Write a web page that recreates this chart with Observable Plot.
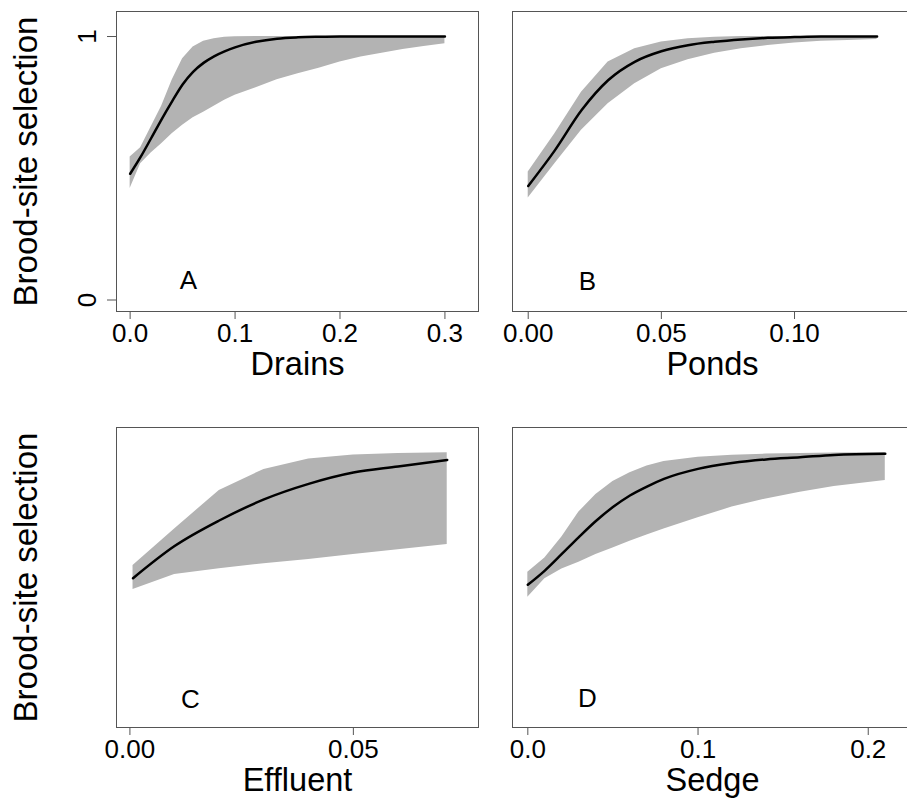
<!DOCTYPE html>
<html>
<head>
<meta charset="utf-8">
<script src="https://cdn.jsdelivr.net/npm/d3@7"></script>
<script src="https://cdn.jsdelivr.net/npm/@observablehq/plot@0.6"></script>
<style>
  html, body { margin: 0; padding: 0; background: #fff; overflow: hidden; }
  #wrap { position: relative; width: 907px; height: 798px; overflow: hidden; background: #fff; }
  .panel { position: absolute; }
</style>
</head>
<body>
<div id="wrap"></div>
<script>
// ---------- text ----------
const yTitle = "Brood-site selection";
const panelLetters = ["A", "B", "C", "D"];
const xTitles = ["Drains", "Ponds", "Effluent", "Sedge"];

// ---------- tick values and labels ----------
const yTicks = [0, 1];
const yTickLabels = ["0", "1"];
const drainsTicks = [0, 0.1, 0.2, 0.3];
const drainsTickLabels = ["0.0", "0.1", "0.2", "0.3"];
const pondsTicks = [0, 0.05, 0.1];
const pondsTickLabels = ["0.00", "0.05", "0.10"];
const effluentTicks = [0, 0.05];
const effluentTickLabels = ["0.00", "0.05"];
const sedgeTicks = [0, 0.1, 0.2];
const sedgeTickLabels = ["0.0", "0.1", "0.2"];

// ---------- A: Drains ----------
const drainsX   = [0, 0.01, 0.02, 0.03, 0.04, 0.05, 0.06, 0.07, 0.08, 0.09, 0.1, 0.12, 0.14, 0.16, 0.18, 0.2, 0.22, 0.24, 0.26, 0.28, 0.3];
const drainsFit = [0.479, 0.543, 0.614, 0.686, 0.754, 0.818, 0.866, 0.900, 0.925, 0.944, 0.959, 0.980, 0.992, 0.997, 0.999, 1, 1, 1, 1, 1, 1];
const drainsHi  = [0.543, 0.578, 0.657, 0.735, 0.834, 0.916, 0.960, 0.982, 0.992, 0.997, 0.999, 1, 1, 1, 1, 1, 1, 1, 1, 1, 1];
const drainsLo  = [0.423, 0.517, 0.558, 0.593, 0.631, 0.663, 0.692, 0.713, 0.735, 0.758, 0.777, 0.806, 0.836, 0.859, 0.880, 0.903, 0.922, 0.937, 0.951, 0.962, 0.973];

// ---------- B: Ponds ----------
const pondsX   = [0, 0.01, 0.02, 0.03, 0.04, 0.05, 0.06, 0.07, 0.08, 0.09, 0.1, 0.11, 0.12, 0.131];
const pondsFit = [0.433, 0.568, 0.720, 0.834, 0.904, 0.944, 0.967, 0.980, 0.989, 0.995, 0.998, 1, 1, 1];
const pondsHi  = [0.486, 0.631, 0.789, 0.903, 0.954, 0.979, 0.992, 0.997, 1, 1, 1, 1, 1, 1];
const pondsLo  = [0.387, 0.517, 0.644, 0.745, 0.821, 0.878, 0.912, 0.937, 0.954, 0.966, 0.975, 0.982, 0.985, 0.989];

// ---------- C: Effluent ----------
const effluentX   = [0.0007, 0.01, 0.02, 0.03, 0.04, 0.05, 0.06, 0.071];
const effluentFit = [0.523, 0.645, 0.742, 0.822, 0.881, 0.924, 0.947, 0.972];
const effluentHi  = [0.571, 0.710, 0.856, 0.936, 0.975, 0.991, 0.996, 0.999];
const effluentLo  = [0.480, 0.537, 0.559, 0.578, 0.594, 0.613, 0.631, 0.651];

// ---------- D: Sedge ----------
const sedgeX   = [0, 0.01, 0.02, 0.03, 0.04, 0.05, 0.06, 0.07, 0.08, 0.1, 0.12, 0.14, 0.16, 0.18, 0.21];
const sedgeFit = [0.498, 0.552, 0.615, 0.679, 0.740, 0.793, 0.837, 0.871, 0.900, 0.938, 0.960, 0.974, 0.982, 0.991, 0.995];
const sedgeHi  = [0.546, 0.600, 0.679, 0.774, 0.841, 0.890, 0.923, 0.949, 0.966, 0.982, 0.990, 0.994, 0.996, 0.998, 0.999];
const sedgeLo  = [0.451, 0.521, 0.558, 0.584, 0.613, 0.638, 0.663, 0.687, 0.710, 0.752, 0.793, 0.824, 0.849, 0.871, 0.894];

// ---------- build ----------
function rows(xs, fit, lo, hi) {
  return xs.map((x, i) => ({x, fit: fit[i], lo: lo[i], hi: hi[i]}));
}

const FONT = "'Liberation Sans', Arial, Helvetica, sans-serif";
const FRAME = "#555555";
const BAND = "#b3b3b3";
const Y_DOMAIN = [-0.0436, 1.095];

const panels = [
  {letter: panelLetters[0], title: xTitles[0], data: rows(drainsX, drainsFit, drainsLo, drainsHi),
   ticks: drainsTicks, labels: drainsTickLabels, xDomain: [-0.013, 0.332], showY: true,
   left: 0, top: 0, width: 490, height: 400, mL: 116, mR: 12, mT: 11, mB: 89, ldx: 72, ldy: -31},
  {letter: panelLetters[1], title: xTitles[1], data: rows(pondsX, pondsFit, pondsLo, pondsHi),
   ticks: pondsTicks, labels: pondsTickLabels, xDomain: [-0.0059, 0.1443], showY: false,
   left: 490, top: 0, width: 430, height: 400, mL: 22, mR: 8, mT: 11, mB: 89, ldx: 75, ldy: -30},
  {letter: panelLetters[2], title: xTitles[2], data: rows(effluentX, effluentFit, effluentLo, effluentHi),
   ticks: effluentTicks, labels: effluentTickLabels, xDomain: [-0.003, 0.078], showY: false,
   left: 0, top: 416, width: 490, height: 382, mL: 116, mR: 12, mT: 11, mB: 71, ldx: 74, ldy: -28},
  {letter: panelLetters[3], title: xTitles[3], data: rows(sedgeX, sedgeFit, sedgeLo, sedgeHi),
   ticks: sedgeTicks, labels: sedgeTickLabels, xDomain: [-0.009, 0.226], showY: false,
   left: 490, top: 416, width: 430, height: 382, mL: 22, mR: 8, mT: 11, mB: 71, ldx: 75, ldy: -29}
];

const wrap = document.getElementById("wrap");

panels.forEach((p, idx) => {
  const yTitleShown = (idx % 2 === 0);
  const marks = [
    Plot.areaY(p.data, {x: "x", y1: "lo", y2: "hi", fill: BAND, fillOpacity: 1}),
    Plot.line(p.data, {x: "x", y: "fit", stroke: "black", strokeWidth: 2.5, strokeLinejoin: "round", curve: "monotone-x"}),
    Plot.frame({stroke: FRAME, strokeWidth: 1}),
    Plot.axisX(p.ticks, {
      tickSize: 8, tickPadding: 4, fontSize: 26, stroke: FRAME, fill: "black", label: null,
      tickFormat: d => p.labels[p.ticks.indexOf(d)]
    }),
    Plot.text([p.title], {text: d => d, frameAnchor: "bottom", lineAnchor: "top", dy: 40, fontSize: 32.5, fill: "black"}),
    Plot.text([p.letter], {text: d => d, frameAnchor: "bottom-left", textAnchor: "middle", lineAnchor: "middle", dx: p.ldx, dy: p.ldy, fontSize: 26, fill: "black"})
  ];
  if (p.showY) {
    marks.push(Plot.axisY(yTicks, {
      tickSize: 9, tickRotate: -90, tickPadding: 12, fontSize: 26, stroke: FRAME, fill: "black", label: null,
      textAnchor: "middle", lineAnchor: "bottom",
      tickFormat: d => yTickLabels[yTicks.indexOf(d)]
    }));
  }
  if (yTitleShown) {
    marks.push(Plot.text([yTitle], {text: d => d, frameAnchor: "left", rotate: -90, textAnchor: "middle", lineAnchor: "top", dx: -102.5, fontSize: 33, fill: "black"}));
  }
  const svg = Plot.plot({
    width: p.width,
    height: p.height,
    marginLeft: p.mL,
    marginRight: p.mR,
    marginTop: p.mT,
    marginBottom: p.mB,
    style: {fontFamily: FONT, background: "white", maxWidth: "none", overflow: "hidden", color: "black"},
    x: {domain: p.xDomain, axis: null},
    y: {domain: Y_DOMAIN, axis: null},
    marks
  });
  const div = document.createElement("div");
  div.className = "panel";
  div.style.left = p.left + "px";
  div.style.top = p.top + "px";
  div.style.width = p.width + "px";
  div.style.height = p.height + "px";
  div.appendChild(svg);
  wrap.appendChild(div);
});
</script>
</body>
</html>
